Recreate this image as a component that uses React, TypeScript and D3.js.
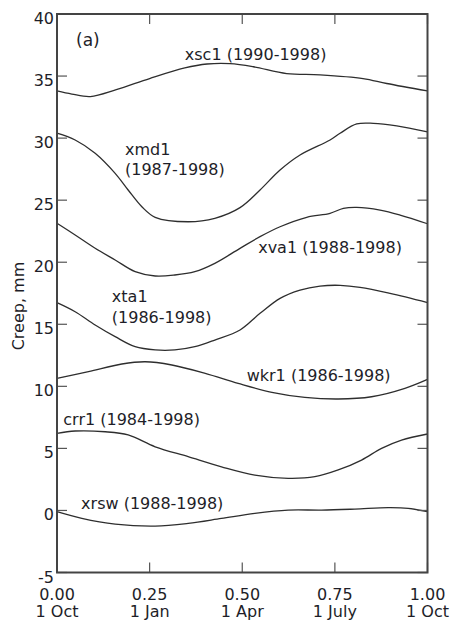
import React from "react";
import * as d3 from "d3";

// Seasonal creep curves (mm) against fraction of year starting 1 Oct
const xsc1T = [0, 0.04, 0.09, 0.16, 0.25, 0.345, 0.405, 0.467, 0.53, 0.62, 0.71, 0.826, 0.89, 1];
const xsc1V = [33.8, 33.55, 33.35, 33.9, 34.8, 35.65, 35.97, 36.0, 35.75, 35.2, 35.1, 34.8, 34.4, 33.8];

const xmd1T = [0, 0.049, 0.103, 0.157, 0.192, 0.229, 0.265, 0.354, 0.426, 0.494, 0.548, 0.602, 0.656, 0.737, 0.764, 0.809, 0.854, 0.917, 1];
const xmd1V = [30.4, 29.85, 28.78, 27.16, 25.82, 24.47, 23.62, 23.26, 23.54, 24.4, 25.82, 27.43, 28.64, 29.85, 30.39, 31.14, 31.19, 30.98, 30.5];

const xva1T = [0, 0.049, 0.103, 0.157, 0.211, 0.265, 0.318, 0.372, 0.426, 0.494, 0.548, 0.602, 0.674, 0.737, 0.773, 0.809, 0.872, 0.926, 1];
const xva1V = [23.14, 22.19, 21.12, 20.18, 19.24, 18.89, 18.97, 19.24, 19.91, 21.12, 22.06, 22.86, 23.62, 23.94, 24.34, 24.42, 24.2, 23.8, 23.1];

const xta1T = [0, 0.049, 0.103, 0.157, 0.211, 0.265, 0.318, 0.372, 0.426, 0.494, 0.548, 0.602, 0.656, 0.71, 0.764, 0.818, 0.899, 1];
const xta1V = [16.74, 16.01, 14.94, 14.0, 13.19, 12.93, 12.93, 13.19, 13.73, 14.54, 15.88, 17.09, 17.76, 18.08, 18.14, 17.98, 17.49, 16.75];

const wkr1T = [0, 0.085, 0.175, 0.238, 0.31, 0.4, 0.489, 0.58, 0.669, 0.759, 0.849, 0.939, 1];
const wkr1V = [10.64, 11.18, 11.8, 11.98, 11.72, 11.05, 10.24, 9.52, 9.11, 8.98, 9.16, 9.84, 10.56];

const crr1T = [0, 0.049, 0.13, 0.192, 0.265, 0.354, 0.444, 0.534, 0.624, 0.696, 0.759, 0.822, 0.876, 0.93, 1];
const crr1V = [6.21, 6.4, 6.34, 6.08, 5.13, 4.33, 3.52, 2.85, 2.59, 2.72, 3.26, 4.06, 5.0, 5.67, 6.16];

const xrswT = [0, 0.067, 0.157, 0.265, 0.354, 0.444, 0.534, 0.624, 0.714, 0.804, 0.894, 0.948, 1];
const xrswV = [-0.1, -0.64, -1.1, -1.26, -1.04, -0.64, -0.23, 0.03, 0.03, 0.11, 0.22, 0.17, -0.1];

const yTicks = [-5, 0, 5, 10, 15, 20, 25, 30, 35, 40];
const xTicks = [0, 0.25, 0.5, 0.75, 1];
const xTickTop = ["0.00", "0.25", "0.50", "0.75", "1.00"];
const xTickBottom = ["1 Oct", "1 Jan", "1 Apr", "1 July", "1 Oct"];

// Station labels: text lines and anchor (fraction of year, creep mm) of the first baseline
const stationLabels = [
  { lines: ["xsc1 (1990-1998)"], t: 0.345, v: 36.29 },
  { lines: ["xmd1", "(1987-1998)"], t: 0.1835, v: 28.64 },
  { lines: ["xva1 (1988-1998)"], t: 0.543, v: 20.74 },
  { lines: ["xta1", "(1986-1998)"], t: 0.148, v: 16.79 },
  { lines: ["wkr1 (1986-1998)"], t: 0.512, v: 10.47 },
  { lines: ["crr1 (1984-1998)"], t: 0.017, v: 6.88 },
  { lines: ["xrsw (1988-1998)"], t: 0.065, v: 0.15 },
];

const series = [
  { t: xsc1T, v: xsc1V },
  { t: xmd1T, v: xmd1V },
  { t: xva1T, v: xva1V },
  { t: xta1T, v: xta1V },
  { t: wkr1T, v: wkr1V },
  { t: crr1T, v: crr1V },
  { t: xrswT, v: xrswV },
];

const W = 455;
const H = 623;
const left = 57;
const right = 427.5;
const top = 14;
const bottom = 572.5;
const FONT = "'DejaVu Sans', sans-serif";
const INK = "#1e1e28";

export default function App() {
  const x = d3.scaleLinear().domain([0, 1]).range([left, right]);
  const y = d3.scaleLinear().domain([-5, 40]).range([bottom, top]);
  const line = d3
    .line<[number, number]>()
    .x((d) => x(d[0]))
    .y((d) => y(d[1]))
    .curve(d3.curveCatmullRom.alpha(0.5));

  const tickLen = 10;

  return (
    <svg
      width={W}
      height={H}
      style={{ position: "absolute", left: 0, top: 0, background: "#fff" }}
      fontFamily={FONT}
    >
      {/* curves */}
      {series.map((s, i) => (
        <path
          key={i}
          d={line(s.t.map((t, j) => [t, s.v[j]] as [number, number])) || ""}
          fill="none"
          stroke="#2e2e2e"
          strokeWidth={1.3}
        />
      ))}

      {/* y ticks, both sides */}
      {yTicks.map((v) => (
        <g key={v}>
          <line x1={left} x2={left + tickLen} y1={y(v)} y2={y(v)} stroke="#555" strokeWidth={1.2} />
          <line x1={right} x2={right - tickLen} y1={y(v)} y2={y(v)} stroke="#555" strokeWidth={1.2} />
          <text x={left - 3} y={y(v) + 10} textAnchor="end" fontSize={16} fill={INK}>
            {v}
          </text>
        </g>
      ))}

      {/* x ticks, top and bottom */}
      {xTicks.map((t, i) => (
        <g key={t}>
          <line x1={x(t)} x2={x(t)} y1={bottom} y2={bottom - tickLen} stroke="#555" strokeWidth={1.2} />
          <line x1={x(t)} x2={x(t)} y1={top} y2={top + tickLen} stroke="#555" strokeWidth={1.2} />
          <text x={x(t)} y={599.5} textAnchor="middle" fontSize={16} fill={INK}>
            {xTickTop[i]}
          </text>
          <text x={x(t)} y={617} textAnchor="middle" fontSize={16} fill={INK}>
            {xTickBottom[i]}
          </text>
        </g>
      ))}

      {/* frame */}
      <rect
        x={left}
        y={top}
        width={right - left}
        height={bottom - top}
        fill="none"
        stroke="#444"
        strokeWidth={2}
      />

      {/* panel tag */}
      <text x={76} y={46} fontSize={17} fill={INK}>
        (a)
      </text>

      {/* station labels */}
      {stationLabels.map((l, i) => (
        <text key={i} x={x(l.t)} y={y(l.v)} fontSize={16} fill={INK}>
          {l.lines.map((s, j) => (
            <tspan key={j} x={x(l.t)} dy={j === 0 ? 0 : 20.5}>
              {s}
            </tspan>
          ))}
        </text>
      ))}

      {/* y axis title */}
      <text
        transform="translate(24, 306) rotate(-90)"
        textAnchor="middle"
        fontSize={16}
        fill={INK}
      >
        Creep, mm
      </text>
    </svg>
  );
}
